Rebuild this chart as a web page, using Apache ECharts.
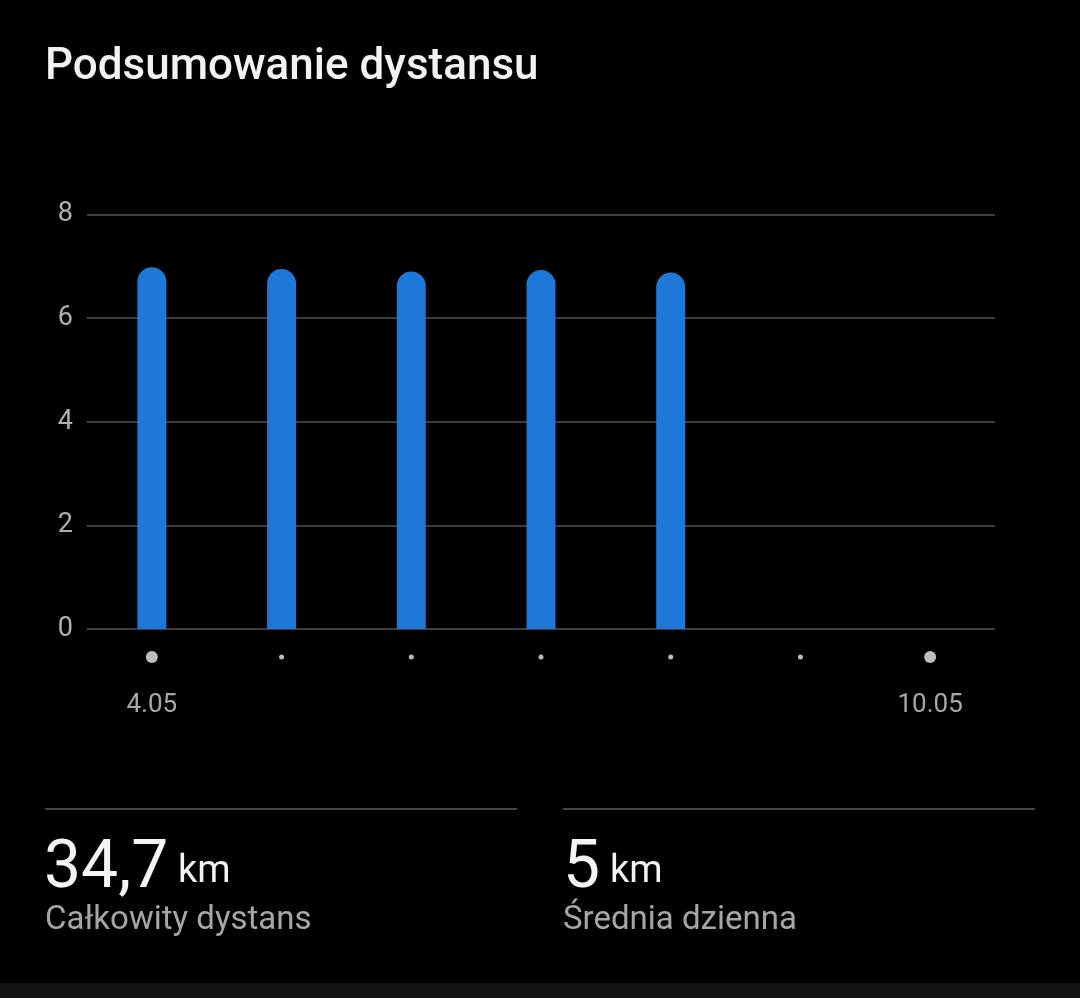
<!DOCTYPE html>
<html>
<head>
<meta charset="utf-8">
<script src="https://cdn.jsdelivr.net/npm/echarts@6/dist/echarts.min.js"></script>
<style>
html,body{margin:0;padding:0;background:#000;}
#chart{width:1080px;height:998px;}
</style>
</head>
<body>
<div id="chart"></div>
<script>
const categories = ['4.05', '5.05', '6.05', '7.05', '8.05', '9.05', '10.05'];
const distances = [6.98, 6.95, 6.90, 6.93, 6.88, 0, 0];
const yTicks = [0, 2, 4, 6, 8];
const titleText = 'Podsumowanie dystansu';
const totalValue = '34,7';
const totalLabel = 'Całkowity dystans';
const avgValue = '5';
const avgLabel = 'Średnia dzienna';
const unit = 'km';

const FONT = 'Roboto, "Noto Sans", sans-serif';
const chart = echarts.init(document.getElementById('chart'));
chart.setOption({
  backgroundColor: '#000',
  animation: false,
  textStyle: { fontFamily: FONT },
  grid: { left: 87, right: 85, top: 214.5, bottom: 369, containLabel: false },
  xAxis: {
    type: 'category',
    data: categories,
    axisLine: { show: false },
    axisTick: { show: false },
    axisLabel: {
      interval: 0,
      margin: 22,
      formatter: function (v, i) {
        if (i === 0 || i === categories.length - 1) return '{big|}\n{date|' + v + '}';
        return '{sp|}{small|}';
      },
      rich: {
        big: { width: 12, height: 12, borderRadius: 6, backgroundColor: '#bdbdbd' },
        sp: { width: 0, height: 12 },
        small: { width: 5, height: 5, borderRadius: 2.5, backgroundColor: '#bdbdbd', verticalAlign: 'middle' },
        date: { fontSize: 26, color: '#a8a8a8', lineHeight: 84, fontFamily: FONT }
      }
    }
  },
  yAxis: {
    type: 'value',
    min: yTicks[0],
    max: yTicks[yTicks.length - 1],
    interval: 2,
    axisLine: { show: false },
    axisTick: { show: false },
    axisLabel: { fontSize: 27, color: '#b0b0b0', margin: 14, fontFamily: FONT },
    splitLine: { lineStyle: { color: '#3e3e3e', width: 2 } }
  },
  series: [{
    type: 'bar',
    data: distances,
    barWidth: 29,
    itemStyle: { color: '#1e78d7', borderRadius: [14.5, 14.5, 0, 0] }
  }],
  graphic: [
    { type: 'text', left: 45, top: 46, style: { text: titleText, fill: '#f2f2f2', font: '500 44px ' + FONT } },
    { type: 'rect', shape: { x: 45, y: 808, width: 472, height: 2 }, style: { fill: '#444' } },
    { type: 'rect', shape: { x: 563, y: 808, width: 472, height: 2 }, style: { fill: '#444' } },
    { type: 'text', x: 44, y: 837, style: { text: totalValue, fill: '#f4f4f4', font: '400 66px ' + FONT } },
    { type: 'text', x: 178, y: 853, style: { text: unit, fill: '#f4f4f4', font: '400 38px ' + FONT } },
    { type: 'text', x: 45, y: 904, style: { text: totalLabel, fill: '#a6a6a6', font: '400 33px ' + FONT } },
    { type: 'text', x: 563, y: 837, style: { text: avgValue, fill: '#f4f4f4', font: '400 66px ' + FONT } },
    { type: 'text', x: 610, y: 853, style: { text: unit, fill: '#f4f4f4', font: '400 38px ' + FONT } },
    { type: 'text', x: 563, y: 904, style: { text: avgLabel, fill: '#a6a6a6', font: '400 33px ' + FONT } },
    { type: 'rect', shape: { x: 0, y: 983, width: 1080, height: 15 }, style: { fill: '#121212' } }
  ]
});
</script>
</body>
</html>
